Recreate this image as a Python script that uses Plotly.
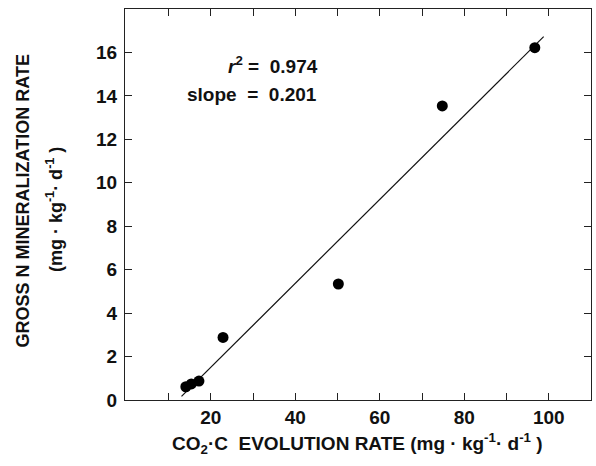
import plotly.graph_objects as go

# Data
co2_rate = [14.1, 15.4, 17.2, 22.9, 50.2, 74.8, 96.7]
n_mineral = [0.61, 0.74, 0.87, 2.88, 5.34, 13.54, 16.22]

fit_x = [13.07, 98.8]
fit_y = [0.17, 16.73]

x_tickvals = [20, 40, 60, 80, 100]
x_ticktext = ["20", "40", "60", "80", "100"]
x_minor_ticks = [10, 30, 50, 70, 90]
y_tickvals = [0, 2, 4, 6, 8, 10, 12, 14, 16]
y_ticktext = ["0", "2", "4", "6", "8", "10", "12", "14", "16"]

FONT = "Liberation Sans, Arial, sans-serif"
INK = "#111111"

fig = go.Figure()
fig.add_trace(go.Scatter(x=fit_x, y=fit_y, mode="lines",
                         line=dict(color=INK, width=1.2), showlegend=False,
                         hoverinfo="skip"))
fig.add_trace(go.Scatter(x=co2_rate, y=n_mineral, mode="markers",
                         marker=dict(color="black", size=11, line=dict(width=0)),
                         showlegend=False))

axis_common = dict(showgrid=False, zeroline=False, showline=True,
                   linecolor="#222222", linewidth=1.3, mirror="ticks",
                   ticks="inside", ticklen=7, tickwidth=1.2, tickcolor="#222222",
                   tickfont=dict(family=FONT, size=19, color=INK, weight="bold"))

fig.update_xaxes(range=[-0.3, 110], tickmode="array", tickvals=x_tickvals,
                 ticktext=x_ticktext,
                 minor=dict(tickmode="array", tickvals=x_minor_ticks, ticks="inside",
                            ticklen=7, tickwidth=1.2, tickcolor="#222222", showgrid=False),
                 **axis_common)
fig.update_yaxes(range=[0, 18], tickmode="array", tickvals=y_tickvals,
                 ticktext=y_ticktext, ticklabelstandoff=3, **axis_common)

annos = [
    dict(text="<i>r</i><sup>2</sup>\u00a0=\u00a0\u00a00.974", x=45.8, y=15.4,
         xref="x", yref="y", xanchor="right", yanchor="middle", showarrow=False,
         font=dict(family=FONT, size=19, color=INK, weight="bold")),
    dict(text="slope\u00a0\u00a0=\u00a0\u00a00.201", x=45.6, y=14.05,
         xref="x", yref="y", xanchor="right", yanchor="middle", showarrow=False,
         font=dict(family=FONT, size=19, color=INK, weight="bold")),
    dict(text="GROSS N MINERALIZATION RATE", x=-0.218, y=0.509,
         xref="paper", yref="paper", xanchor="center", yanchor="middle",
         textangle=-90, showarrow=False,
         font=dict(family=FONT, size=18, color=INK, weight="bold")),
    dict(text="(mg\u00a0·\u00a0kg<sup>-1</sup>·\u00a0d<sup>-1</sup>\u00a0)", x=-0.15, y=0.486,
         xref="paper", yref="paper", xanchor="center", yanchor="middle",
         textangle=-90, showarrow=False,
         font=dict(family=FONT, size=18, color=INK, weight="bold")),
    dict(text="CO<sub>2</sub>·C\u00a0\u00a0EVOLUTION RATE (mg\u00a0·\u00a0kg<sup>-1</sup>·\u00a0d<sup>-1</sup>\u00a0)",
         x=0.498, y=-0.112, xref="paper", yref="paper", xanchor="center",
         yanchor="middle", showarrow=False,
         font=dict(family=FONT, size=19, color=INK, weight="bold")),
]

fig.update_layout(width=596, height=466, margin=dict(l=125, r=5, t=9, b=66),
                  plot_bgcolor="white", paper_bgcolor="white",
                  annotations=annos, font=dict(family=FONT))

fig.write_html("out.html", config={"displayModeBar": False},
               post_script="document.body.style.margin='0';")
